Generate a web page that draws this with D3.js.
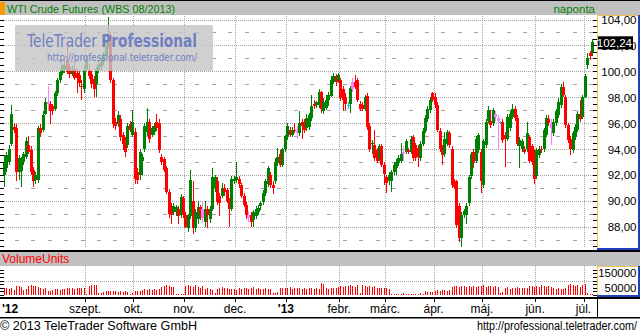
<!DOCTYPE html>
<html><head><meta charset="utf-8">
<script src="https://cdn.jsdelivr.net/npm/d3@7"></script>
<style>
html,body{margin:0;padding:0;background:#fff;}
svg{display:block;font-family:"Liberation Sans",Arial,sans-serif;}
</style></head><body>
<svg id="c" width="640" height="336"></svg>
<script>
// ---- data ----
const open = [92.0,92.5,93.0,94.4,95.7,95.6,92.2,92.3,93.0,93.4,94.3,93.9,92.4,91.6,91.6,95.6,95.5,96.7,97.6,97.5,
97.3,97.1,98.3,99.3,99.9,100.1,100.9,100.3,99.8,100.2,99.9,99.7,98.9,98.6,100.2,100.1,99.8,99.4,99.0,100.1,
100.3,100.7,101.2,101.9,102.8,99.3,96.1,95.9,96.3,95.1,94.7,94.3,95.9,95.1,95.3,92.2,92.0,93.1,94.0,95.3,
96.1,95.1,95.3,96.1,96.0,93.4,93.2,92.5,90.7,89.6,89.1,89.1,89.4,88.9,90.2,88.9,87.9,88.8,90.0,87.9,
88.6,89.5,89.4,88.4,89.4,88.6,89.4,91.0,91.5,90.4,90.4,91.0,90.8,90.0,89.4,91.5,91.6,91.7,91.2,90.4,
89.7,88.9,88.9,88.5,88.8,89.1,89.6,89.9,90.6,91.3,92.0,91.2,91.5,92.9,93.6,92.8,94.0,94.9,95.5,95.1,
95.5,95.5,95.2,96.1,96.1,95.6,95.7,96.4,97.5,97.4,97.4,98.4,96.9,97.2,97.8,98.1,99.2,99.6,99.3,99.3,
98.6,98.0,97.4,97.5,98.6,99.2,99.3,97.5,97.4,97.1,98.1,95.8,94.4,94.3,93.9,93.3,94.2,92.8,91.8,91.5,
91.5,92.2,92.5,92.9,93.1,93.8,93.8,93.9,93.8,94.9,94.3,94.1,93.3,94.4,95.4,96.3,97.0,98.3,98.0,97.4,
95.4,94.1,93.6,94.4,95.2,94.0,91.5,91.5,89.6,87.1,88.9,88.9,89.8,91.9,93.8,93.1,93.9,93.8,91.2,94.3,
96.2,96.2,96.0,96.7,96.4,96.1,96.1,95.1,94.8,95.6,96.5,97.1,96.4,94.2,94.0,94.0,94.0,94.9,94.2,93.8,
91.9,93.5,94.0,94.0,95.1,96.3,96.0,95.2,96.0,96.6,97.4,98.8,98.0,95.85,94.8,93.9,94.9,95.5,96.7,96.5,
98.0,100.5,101.4,101.4];
const high = [93.5,93.8,94.3,97.4,96.0,95.9,93.5,93.4,93.8,94.9,95.0,94.2,92.6,92.2,95.8,95.9,96.9,97.9,98.9,97.7,
97.5,98.5,99.5,100.2,100.6,100.9,102.1,100.6,100.4,100.5,100.2,100.0,99.3,100.4,101.2,100.6,100.0,99.6,100.3,100.8,
101.0,101.5,102.2,104.2,103.0,99.5,96.4,96.9,96.6,95.3,94.9,96.0,96.2,97.0,95.6,92.5,94.0,93.6,96.0,97.2,
96.3,95.8,96.0,96.7,96.3,93.6,93.4,92.7,90.9,89.8,89.8,89.7,89.6,90.5,90.4,89.1,89.0,92.4,91.5,89.4,
90.0,89.7,89.9,90.0,89.6,89.6,92.5,92.0,91.8,90.6,91.4,91.3,91.0,90.2,91.9,91.9,93.0,91.9,91.4,90.6,
89.9,89.2,89.1,89.3,89.6,89.7,90.0,90.8,91.7,92.7,92.2,91.5,93.3,94.1,93.9,94.1,95.1,96.0,95.7,95.7,
96.0,95.8,96.9,96.3,96.3,96.7,96.8,98.2,97.8,97.7,98.6,98.5,97.9,98.2,98.4,99.6,99.9,99.8,99.9,99.5,
98.9,98.3,97.6,98.9,99.5,99.7,99.5,97.7,97.6,98.2,98.3,96.0,94.7,95.5,94.1,94.4,94.4,93.0,92.0,92.2,
92.4,93.0,93.2,93.5,94.5,94.2,94.8,94.1,95.0,95.1,94.5,94.3,94.6,95.6,96.6,97.3,98.0,98.4,98.3,97.6,
95.6,94.3,95.3,95.5,95.4,94.2,91.7,91.6,89.8,89.1,89.4,89.8,92.0,93.8,94.0,95.0,95.2,94.0,94.8,96.3,
97.3,97.0,97.2,96.9,96.6,96.2,96.3,95.3,96.7,96.9,97.5,97.3,96.6,94.9,94.8,94.2,96.1,95.1,94.4,94.0,
94.1,94.2,94.2,95.6,96.6,96.6,96.3,96.3,97.1,97.9,99.0,99.2,98.2,96.0,95.0,95.4,95.9,96.9,97.8,98.2,
99.8,101.4,101.6,102.5];
const low = [91.1,92.2,92.8,94.2,95.2,91.5,91.6,91.1,92.8,93.2,93.6,92.0,91.1,91.3,91.4,94.9,95.3,96.6,96.9,95.9,
96.6,96.9,98.1,99.1,99.7,99.9,99.8,99.5,99.6,99.3,98.3,98.8,97.8,98.3,100.0,99.4,98.7,98.0,98.0,99.9,
100.1,100.5,101.0,101.7,99.1,95.6,95.5,95.7,94.6,93.9,93.4,94.1,95.3,94.9,91.3,91.3,91.6,92.0,93.8,95.0,
94.5,94.9,95.1,95.4,93.7,92.8,92.2,90.5,88.7,88.2,88.9,88.8,88.2,88.7,88.7,87.9,87.6,88.6,87.4,87.6,
88.2,88.5,88.3,88.0,87.9,88.3,89.2,90.7,89.7,88.8,90.2,90.4,89.8,88.0,89.2,91.3,91.4,91.0,90.2,89.5,
88.6,88.4,88.0,88.0,88.6,88.9,89.3,89.7,90.4,91.1,91.0,90.5,91.3,92.7,92.6,92.6,93.8,94.7,94.9,94.9,
95.2,94.8,95.0,94.8,95.2,95.4,95.5,96.2,97.1,97.2,97.2,96.75,96.7,97.0,97.3,98.0,99.0,98.9,99.1,97.7,
96.9,97.0,97.1,96.75,98.4,98.6,97.6,96.9,96.9,96.9,95.5,93.8,93.6,93.1,92.9,93.1,92.6,91.2,90.6,91.2,
90.7,92.0,92.0,92.7,92.9,93.1,93.6,93.6,93.6,93.1,93.1,92.6,93.1,94.2,95.2,96.1,96.8,97.6,97.2,95.3,
93.8,92.8,93.4,94.2,94.1,91.0,90.9,87.9,86.8,86.45,88.7,88.2,89.6,91.7,92.5,92.9,93.7,90.6,91.0,94.1,
96.0,95.6,95.8,96.2,93.9,95.9,94.5,92.6,94.6,95.4,96.3,96.2,94.2,92.5,93.8,93.6,93.8,92.9,92.8,91.3,
91.7,93.3,93.7,93.8,94.9,95.8,94.3,95.0,95.8,96.4,97.2,98.0,95.6,94.5,93.5,93.7,94.7,95.3,96.1,96.3,
97.9,100.2,100.9,101.2];
const close = [93.0,93.5,94.0,96.7,95.5,92.2,93.3,93.2,93.6,94.6,93.8,92.2,91.5,92.0,95.6,95.2,96.6,97.6,97.5,96.9,
96.9,98.3,99.3,99.95,100.5,100.5,99.95,99.8,100.1,99.5,99.5,99.1,98.8,100.1,100.9,99.6,99.0,98.6,100.2,100.6,
100.7,101.3,101.9,102.8,99.3,95.9,95.8,96.6,94.9,94.4,93.8,95.8,95.5,96.1,91.7,91.6,93.8,93.4,95.8,96.1,
94.8,95.6,95.8,95.6,93.9,93.0,92.4,90.7,89.0,88.9,89.6,89.5,88.8,90.3,88.9,88.0,88.9,91.6,87.9,89.1,
89.5,88.9,88.7,89.4,88.9,89.4,91.8,91.8,89.9,89.8,91.0,90.7,90.0,89.4,91.7,91.7,91.8,91.3,90.4,89.7,
88.9,88.7,88.4,89.1,89.4,89.45,89.8,90.6,91.5,92.5,91.2,91.0,93.0,93.4,92.8,94.0,95.0,95.8,95.1,95.5,
95.4,95.2,96.0,95.8,95.5,96.4,96.6,97.3,97.3,97.6,98.4,97.1,97.65,97.8,98.2,99.3,99.6,99.2,99.7,97.9,
97.8,97.5,97.4,98.7,99.2,98.8,97.8,97.1,97.1,98.0,95.7,94.0,94.5,93.3,93.1,94.2,92.8,92.1,91.35,92.0,
92.2,92.8,93.0,93.3,93.6,93.65,94.6,93.8,94.8,93.3,93.3,93.4,94.4,95.4,96.4,97.1,97.8,97.8,97.4,95.5,
94.0,93.5,94.8,95.3,94.3,91.2,91.1,88.1,87.1,88.9,89.2,89.6,91.85,93.6,93.0,94.8,95.1,91.5,94.6,96.1,
97.0,95.85,97.0,96.5,96.2,96.1,94.7,94.8,96.5,96.7,97.1,96.4,94.4,94.7,94.6,93.8,95.2,93.1,93.0,91.7,
93.9,94.0,93.9,95.45,96.4,96.0,95.6,96.1,96.9,97.65,98.8,98.2,95.85,94.7,94.0,95.2,95.7,96.7,96.3,98.0,
99.6,101.05,101.15,102.24];
// volume in thousands of units
const volume = [48,52,45,50,38,60,62,55,35,42,62,66,60,64,58,48,45,52,30,25,
32,42,45,38,44,40,46,50,48,44,52,46,49,47,8,62,68,70,66,15,
12,20,28,30,25,28,26,22,25,18,28,22,10,12,25,30,28,32,40,38,
45,36,42,35,42,55,60,68,62,58,55,8,6,5,8,64,70,62,58,66,
55,48,60,45,50,40,38,12,45,50,55,48,52,44,40,42,38,46,40,52,
50,45,48,55,42,46,44,40,48,42,45,15,12,20,48,50,52,46,55,44,
50,48,52,45,50,42,46,52,40,48,45,85,75,50,42,48,46,52,55,62,
58,65,60,70,62,58,66,12,70,62,58,64,56,60,52,50,46,48,52,45,
5,4,6,5,4,12,6,5,4,5,6,8,14,6,25,22,18,20,30,34,
28,32,35,30,38,55,60,62,58,65,60,55,62,58,64,56,60,62,66,58,
60,64,56,60,55,12,20,50,55,45,52,48,55,46,50,52,48,60,64,58,
62,55,66,60,58,62,56,46,42,48,44,40,46,70,74,66,62,70,58,72,
76,15,10,8];
const pinkIdx = [18,82,101,121,144,165,203,204,226];
const cyanIdx = [142,205];
const monthStart = [34,54,75,96,117,139,158,178,198,220,240];
const monthLabels = ["szept.","okt.","nov.","dec.","'13","febr.","márc.","ápr.","máj.","jún.","júl."];
const boldLabels = ["'12","'13"];
const firstLabel = "'12";
const priceTicks = [88,90,92,94,96,98,100,102,104];
const minorPrice = [87,89,91,93,95,97,99,101,103];
const volumeLabels = [150000,50000];
const volumeGrid = [100000];
const lastPrice = 102.24;
const titleText = "WTI Crude Futures (WBS 08/2013)";
const periodText = "naponta";

// ---- drawing ----
const svg = d3.select("#c");
const N = Math.min(open.length, high.length, low.length, close.length, volume.length);
const x = d3.scaleLinear().domain([0, N - 1]).range([4, 592]);
const y = d3.scaleLinear().domain([88, 104]).range([226.7, 19.5]);
const yv = d3.scaleLinear().domain([0, 150000]).range([295, 273.4]);
const PR = 597;           // right edge of plots
const TOP = 15, BOT = 248; // price panel
const VT = 266, VB = 296;  // volume panel
const gridCol = "#a4a4a4";
const fmt = d => d.toFixed(2).replace(".", ",");
const px = v => Math.round(v) + 0.5;

svg.append("rect").attr("width", 640).attr("height", 336).attr("fill", "#fff");

// title bar
svg.append("rect").attr("x", 0).attr("y", 0).attr("width", 640).attr("height", 1).attr("fill", "#000");
svg.append("rect").attr("x", 0).attr("y", 1).attr("width", 640).attr("height", 14).attr("fill", "#c0c0c0");
svg.append("rect").attr("x", 0).attr("y", 2).attr("width", 5).attr("height", 13).attr("fill", "#f59d00");
svg.append("text").attr("x", 7).attr("y", 12.5).attr("font-size", 11.5).attr("fill", "#008000")
  .attr("textLength", 168).attr("lengthAdjust", "spacingAndGlyphs").text(titleText);
svg.append("text").attr("x", 595).attr("y", 12.5).attr("font-size", 11.5).attr("fill", "#008000")
  .attr("text-anchor", "end").text(periodText);

// price grid
const grid = svg.append("g").attr("shape-rendering", "crispEdges");
grid.selectAll(".hmaj").data(priceTicks).join("line")
  .attr("x1", 0).attr("x2", PR).attr("y1", d => px(y(d))).attr("y2", d => px(y(d)))
  .attr("stroke", gridCol).attr("stroke-dasharray", "1,1");
grid.selectAll(".hmin").data(minorPrice).join("line")
  .attr("x1", 15).attr("x2", PR).attr("y1", d => px(y(d))).attr("y2", d => px(y(d)))
  .attr("stroke", gridCol).attr("stroke-dasharray", "4,12.4");
grid.selectAll(".vm").data(monthStart).join("line")
  .attr("x1", d => px(x(d - 0.5))).attr("x2", d => px(x(d - 0.5)))
  .attr("y1", TOP + 1).attr("y2", BOT)
  .attr("stroke", gridCol).attr("stroke-dasharray", "1,1");

// candles
const colorOf = i => pinkIdx.includes(i) ? "#ff80ff" : cyanIdx.includes(i) ? "#00d0d0"
  : (close[i] >= open[i] ? "#008000" : "#ff0000");
svg.append("clipPath").attr("id", "pc").append("rect")
  .attr("x", 0).attr("y", TOP + 1).attr("width", PR).attr("height", BOT - TOP - 1);
const cg = svg.append("g").attr("clip-path", "url(#pc)").attr("shape-rendering", "crispEdges");
const idx = d3.range(N);
cg.selectAll(".wick").data(idx).join("line")
  .attr("x1", i => Math.round(x(i)) + 0.5).attr("x2", i => Math.round(x(i)) + 0.5)
  .attr("y1", i => y(high[i])).attr("y2", i => y(low[i]))
  .attr("stroke", colorOf).attr("stroke-width", 1);
cg.selectAll(".body").data(idx).join("rect")
  .attr("x", i => Math.round(x(i)) - 1)
  .attr("width", 3)
  .attr("y", i => y(Math.max(open[i], close[i])))
  .attr("height", i => Math.max(1.2, Math.abs(y(open[i]) - y(close[i]))))
  .attr("fill", colorOf);

// watermark
const wm = svg.append("g");
wm.append("rect").attr("x", 15).attr("y", 25).attr("width", 198).attr("height", 46)
  .attr("fill", "#c4c4c4").attr("opacity", 0.8);
const wt = wm.append("text").attr("x", 27).attr("y", 47)
  .attr("font-size", 17).attr("fill", "#6f7fc4")
  .attr("textLength", 170).attr("lengthAdjust", "spacingAndGlyphs")
  .attr("font-family", "'DejaVu Sans','Liberation Sans',sans-serif");
wt.append("tspan").text("TeleTrader ");
wt.append("tspan").attr("font-weight", "bold").text("Professional");
wm.append("text").attr("x", 47).attr("y", 61)
  .attr("font-size", 10.5).attr("fill", "#6f7fc4")
  .attr("textLength", 150).attr("lengthAdjust", "spacingAndGlyphs")
  .attr("font-family", "'DejaVu Sans','Liberation Sans',sans-serif")
  .text("http://professional.teletrader.com/");

// price side ticks
const halfTicks = d3.range(86.5, 104.01, 0.5).filter(p => y(p) > TOP + 1 && y(p) < BOT);
const tk = svg.append("g").attr("shape-rendering", "crispEdges").attr("stroke", "#000");
tk.selectAll(".lt").data(halfTicks).join("line")
  .attr("x1", 0).attr("x2", 4).attr("y1", d => px(y(d))).attr("y2", d => px(y(d)));
tk.selectAll(".rt").data(halfTicks).join("line")
  .attr("x1", PR - 4).attr("x2", PR).attr("y1", d => px(y(d))).attr("y2", d => px(y(d)));

// price scale panel
const pp = svg.append("g").attr("shape-rendering", "crispEdges");
pp.append("rect").attr("x", PR).attr("y", TOP).attr("width", 640 - PR).attr("height", BOT - TOP + 2).attr("fill", "#fff");
pp.append("line").attr("x1", PR).attr("x2", 638).attr("y1", TOP + 0.5).attr("y2", TOP + 0.5).attr("stroke", "#f2c452");
pp.append("line").attr("x1", PR + 0.5).attr("x2", PR + 0.5).attr("y1", TOP).attr("y2", BOT + 1).attr("stroke", "#f2c452");
pp.append("rect").attr("x", 638).attr("y", TOP).attr("width", 2).attr("height", BOT - TOP + 2).attr("fill", "#1f3fbf");
pp.append("rect").attr("x", PR).attr("y", BOT).attr("width", 640 - PR).attr("height", 2).attr("fill", "#1f3fbf");
svg.selectAll(".pl").data(priceTicks).join("text")
  .attr("x", 636.5).attr("y", d => y(d) + 4.5).attr("text-anchor", "end")
  .attr("font-size", 11.5).attr("fill", "#000").text(fmt);
svg.append("rect").attr("x", 598).attr("y", y(lastPrice) - 6).attr("width", 35).attr("height", 13).attr("fill", "#000");
svg.append("text").attr("x", 632).attr("y", y(lastPrice) + 4.5).attr("text-anchor", "end")
  .attr("font-size", 11.5).attr("fill", "#fff").text(fmt(lastPrice));

// separator + volume header
svg.append("rect").attr("x", 0).attr("y", 250).attr("width", 640).attr("height", 2).attr("fill", "#000");
svg.append("rect").attr("x", 0).attr("y", 252).attr("width", 640).attr("height", 14).attr("fill", "#c0c0c0");
svg.append("text").attr("x", 2).attr("y", 263).attr("font-size", 12).attr("fill", "#ff0000").text("VolumeUnits");

// volume grid
const vg = svg.append("g").attr("shape-rendering", "crispEdges");
vg.selectAll(".vh").data(volumeGrid).join("line")
  .attr("x1", 0).attr("x2", PR).attr("y1", d => px(yv(d))).attr("y2", d => px(yv(d)))
  .attr("stroke", gridCol).attr("stroke-dasharray", "1,1");
vg.selectAll(".vv").data(monthStart).join("line")
  .attr("x1", d => px(x(d - 0.5))).attr("x2", d => px(x(d - 0.5)))
  .attr("y1", VT).attr("y2", VB)
  .attr("stroke", gridCol).attr("stroke-dasharray", "1,1");
vg.selectAll(".vb").data(idx).join("line")
  .attr("x1", i => Math.round(x(i)) + 0.5).attr("x2", i => Math.round(x(i)) + 0.5)
  .attr("y1", yv(0)).attr("y2", i => yv(volume[i] * 1000))
  .attr("stroke", "#ff0000");
const vTicks = d3.range(0, 175001, 25000).filter(v => yv(v) > VT && yv(v) < VB);
vg.selectAll(".vlt").data(vTicks).join("line")
  .attr("x1", 0).attr("x2", 4).attr("y1", d => px(yv(d))).attr("y2", d => px(yv(d))).attr("stroke", "#000");
vg.selectAll(".vrt").data(vTicks).join("line")
  .attr("x1", PR - 4).attr("x2", PR).attr("y1", d => px(yv(d))).attr("y2", d => px(yv(d))).attr("stroke", "#000");
// volume scale panel
vg.append("line").attr("x1", PR).attr("x2", 638).attr("y1", VT + 0.5).attr("y2", VT + 0.5).attr("stroke", "#f2c452");
vg.append("line").attr("x1", PR + 0.5).attr("x2", PR + 0.5).attr("y1", VT).attr("y2", VB).attr("stroke", "#f2c452");
vg.append("rect").attr("x", 638).attr("y", VT).attr("width", 2).attr("height", VB - VT + 1).attr("fill", "#1f3fbf");
vg.append("rect").attr("x", PR).attr("y", VB - 1).attr("width", 640 - PR).attr("height", 2).attr("fill", "#1f3fbf");
svg.selectAll(".vl").data(volumeLabels).join("text")
  .attr("x", 636.5).attr("y", d => yv(d) + 4).attr("text-anchor", "end")
  .attr("font-size", 11.5).attr("fill", "#000").text(d => d);

// time axis
svg.append("rect").attr("x", 0).attr("y", 297).attr("width", 640).attr("height", 2).attr("fill", "#000");
svg.append("rect").attr("x", 0).attr("y", 317).attr("width", 640).attr("height", 1.5).attr("fill", "#000");
svg.append("line").attr("x1", PR + 0.5).attr("x2", PR + 0.5).attr("y1", 299).attr("y2", 317).attr("stroke", "#000");
const ax = svg.append("g").attr("shape-rendering", "crispEdges");
ax.selectAll(".mt").data(monthStart).join("line")
  .attr("x1", d => px(x(d - 0.5))).attr("x2", d => px(x(d - 0.5)))
  .attr("y1", 299).attr("y2", 302).attr("stroke", "#000");
svg.selectAll(".ml").data(monthLabels).join("text")
  .attr("x", (d, k) => x(monthStart[k] - 0.5)).attr("y", 313).attr("text-anchor", "middle")
  .attr("font-size", 12).attr("fill", "#000")
  .attr("font-weight", d => boldLabels.includes(d) ? "bold" : "normal").text(d => d);
svg.append("text").attr("x", 2).attr("y", 313).attr("font-size", 12).attr("font-weight", "bold").text(firstLabel);

// footer
svg.append("text").attr("x", 0).attr("y", 330).attr("font-size", 12.5).attr("fill", "#000")
  .attr("textLength", 197).attr("lengthAdjust", "spacingAndGlyphs")
  .text("© 2013 TeleTrader Software GmbH");
svg.append("text").attr("x", 477).attr("y", 330).attr("font-size", 12).attr("fill", "#000")
  .attr("textLength", 160).attr("lengthAdjust", "spacingAndGlyphs")
  .text("http://professional.teletrader.com/");
</script>
</body></html>
